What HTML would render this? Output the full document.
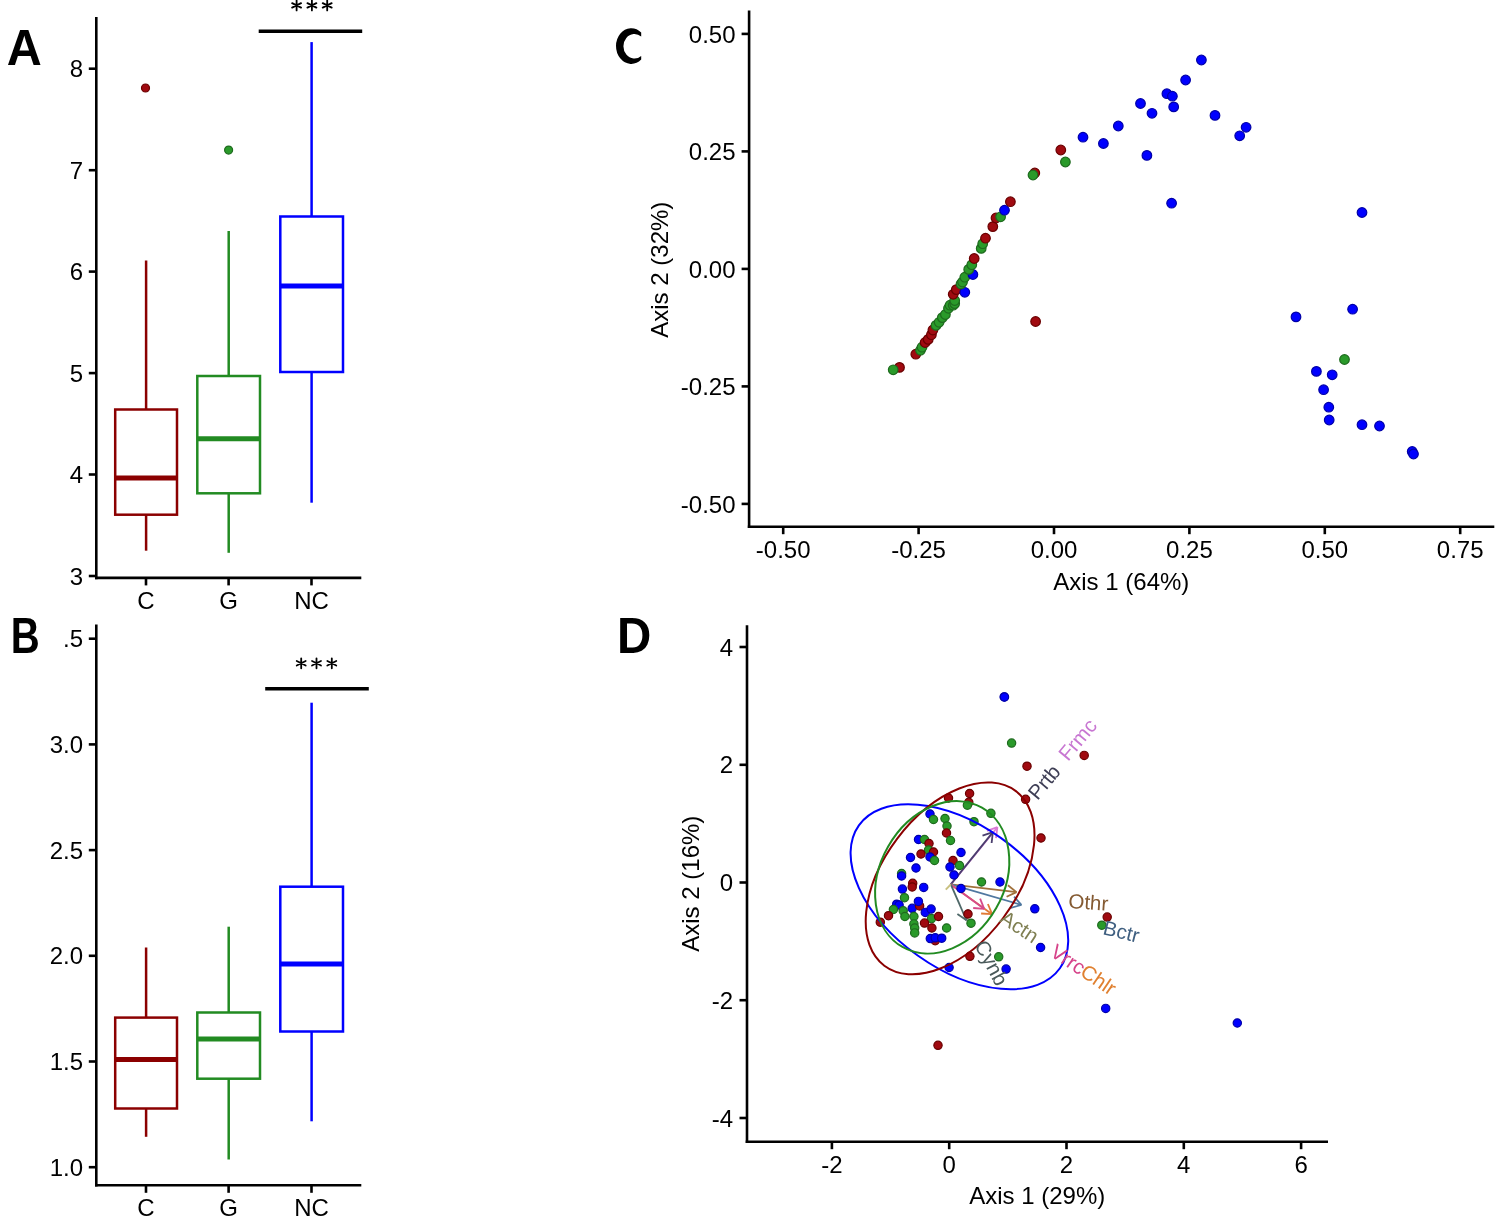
<!DOCTYPE html>
<html><head><meta charset="utf-8"><style>
html,body{margin:0;padding:0;background:#fff;overflow:hidden;font-family:"Liberation Sans", sans-serif;}
svg{display:block;-webkit-font-smoothing:antialiased;will-change:transform;}
</style></head><body>
<svg width="1500" height="1221" viewBox="0 0 1500 1221" font-family="&quot;Liberation Sans&quot;, sans-serif">
<rect width="1500" height="1221" fill="#fff"/>
<line x1="96.3" y1="17.0" x2="96.3" y2="579.2" stroke="#000" stroke-width="2.6" stroke-linecap="butt"/>
<line x1="95.0" y1="577.9" x2="361.3" y2="577.9" stroke="#000" stroke-width="2.6" stroke-linecap="butt"/>
<line x1="88.8" y1="576.0" x2="96.3" y2="576.0" stroke="#000" stroke-width="2.6" stroke-linecap="butt"/>
<text x="83.0" y="584.6" font-size="24" text-anchor="end" fill="#000" font-weight="normal">3</text>
<line x1="88.8" y1="474.5" x2="96.3" y2="474.5" stroke="#000" stroke-width="2.6" stroke-linecap="butt"/>
<text x="83.0" y="483.1" font-size="24" text-anchor="end" fill="#000" font-weight="normal">4</text>
<line x1="88.8" y1="373.1" x2="96.3" y2="373.1" stroke="#000" stroke-width="2.6" stroke-linecap="butt"/>
<text x="83.0" y="381.7" font-size="24" text-anchor="end" fill="#000" font-weight="normal">5</text>
<line x1="88.8" y1="271.6" x2="96.3" y2="271.6" stroke="#000" stroke-width="2.6" stroke-linecap="butt"/>
<text x="83.0" y="280.2" font-size="24" text-anchor="end" fill="#000" font-weight="normal">6</text>
<line x1="88.8" y1="170.2" x2="96.3" y2="170.2" stroke="#000" stroke-width="2.6" stroke-linecap="butt"/>
<text x="83.0" y="178.8" font-size="24" text-anchor="end" fill="#000" font-weight="normal">7</text>
<line x1="88.8" y1="68.7" x2="96.3" y2="68.7" stroke="#000" stroke-width="2.6" stroke-linecap="butt"/>
<text x="83.0" y="77.3" font-size="24" text-anchor="end" fill="#000" font-weight="normal">8</text>
<line x1="146.0" y1="577.9" x2="146.0" y2="585.4" stroke="#000" stroke-width="2.6" stroke-linecap="butt"/>
<text x="146.0" y="608.9" font-size="24" text-anchor="middle" fill="#000" font-weight="normal">C</text>
<line x1="228.6" y1="577.9" x2="228.6" y2="585.4" stroke="#000" stroke-width="2.6" stroke-linecap="butt"/>
<text x="228.6" y="608.9" font-size="24" text-anchor="middle" fill="#000" font-weight="normal">G</text>
<line x1="311.5" y1="577.9" x2="311.5" y2="585.4" stroke="#000" stroke-width="2.6" stroke-linecap="butt"/>
<text x="311.5" y="608.9" font-size="24" text-anchor="middle" fill="#000" font-weight="normal">NC</text>
<line x1="146.1" y1="260.5" x2="146.1" y2="409.5" stroke="#8b0000" stroke-width="2.5" stroke-linecap="butt"/>
<line x1="146.1" y1="514.7" x2="146.1" y2="550.7" stroke="#8b0000" stroke-width="2.5" stroke-linecap="butt"/>
<rect x="115.2" y="409.5" width="61.8" height="105.2" fill="none" stroke="#8b0000" stroke-width="2.5"/>
<line x1="115.2" y1="478.0" x2="177.0" y2="478.0" stroke="#8b0000" stroke-width="5" stroke-linecap="butt"/>
<line x1="228.7" y1="231.0" x2="228.7" y2="376.0" stroke="#228b22" stroke-width="2.5" stroke-linecap="butt"/>
<line x1="228.7" y1="493.3" x2="228.7" y2="552.8" stroke="#228b22" stroke-width="2.5" stroke-linecap="butt"/>
<rect x="197.3" y="376.0" width="62.7" height="117.3" fill="none" stroke="#228b22" stroke-width="2.5"/>
<line x1="197.3" y1="438.7" x2="260.0" y2="438.7" stroke="#228b22" stroke-width="5" stroke-linecap="butt"/>
<line x1="311.6" y1="42.1" x2="311.6" y2="216.5" stroke="#0000ff" stroke-width="2.5" stroke-linecap="butt"/>
<line x1="311.6" y1="372.0" x2="311.6" y2="502.7" stroke="#0000ff" stroke-width="2.5" stroke-linecap="butt"/>
<rect x="280.3" y="216.5" width="62.7" height="155.5" fill="none" stroke="#0000ff" stroke-width="2.5"/>
<line x1="280.3" y1="285.9" x2="343.0" y2="285.9" stroke="#0000ff" stroke-width="5" stroke-linecap="butt"/>
<line x1="258.7" y1="31.2" x2="362.2" y2="31.2" stroke="#000" stroke-width="3.4" stroke-linecap="butt"/>
<path d="M296.60 0.40L296.60 10.40M292.14 3.13L301.06 7.67M301.06 3.13L292.14 7.67" stroke="#000" stroke-width="1.8" stroke-linecap="round" fill="none"/>
<path d="M311.90 0.40L311.90 10.40M307.44 3.13L316.36 7.67M316.36 3.13L307.44 7.67" stroke="#000" stroke-width="1.8" stroke-linecap="round" fill="none"/>
<path d="M327.20 0.40L327.20 10.40M322.74 3.13L331.66 7.67M331.66 3.13L322.74 7.67" stroke="#000" stroke-width="1.8" stroke-linecap="round" fill="none"/>
<circle cx="145.5" cy="88.0" r="4.00" fill="#a00a10" stroke="#6a0000" stroke-width="1.2"/>
<circle cx="228.6" cy="150.1" r="4.00" fill="#2a9a2a" stroke="#1e6a1e" stroke-width="1.2"/>
<line x1="96.3" y1="624.5" x2="96.3" y2="1186.6" stroke="#000" stroke-width="2.6" stroke-linecap="butt"/>
<line x1="95.0" y1="1185.3" x2="361.3" y2="1185.3" stroke="#000" stroke-width="2.6" stroke-linecap="butt"/>
<line x1="88.8" y1="638.7" x2="96.3" y2="638.7" stroke="#000" stroke-width="2.6" stroke-linecap="butt"/>
<text x="83.0" y="647.3" font-size="24" text-anchor="end" fill="#000" font-weight="normal">.5</text>
<line x1="88.8" y1="1167.2" x2="96.3" y2="1167.2" stroke="#000" stroke-width="2.6" stroke-linecap="butt"/>
<text x="83.0" y="1175.8" font-size="24" text-anchor="end" fill="#000" font-weight="normal">1.0</text>
<line x1="88.8" y1="1061.5" x2="96.3" y2="1061.5" stroke="#000" stroke-width="2.6" stroke-linecap="butt"/>
<text x="83.0" y="1070.1" font-size="24" text-anchor="end" fill="#000" font-weight="normal">1.5</text>
<line x1="88.8" y1="955.8" x2="96.3" y2="955.8" stroke="#000" stroke-width="2.6" stroke-linecap="butt"/>
<text x="83.0" y="964.4" font-size="24" text-anchor="end" fill="#000" font-weight="normal">2.0</text>
<line x1="88.8" y1="850.1" x2="96.3" y2="850.1" stroke="#000" stroke-width="2.6" stroke-linecap="butt"/>
<text x="83.0" y="858.7" font-size="24" text-anchor="end" fill="#000" font-weight="normal">2.5</text>
<line x1="88.8" y1="744.4" x2="96.3" y2="744.4" stroke="#000" stroke-width="2.6" stroke-linecap="butt"/>
<text x="83.0" y="753.0" font-size="24" text-anchor="end" fill="#000" font-weight="normal">3.0</text>
<line x1="146.0" y1="1185.3" x2="146.0" y2="1192.8" stroke="#000" stroke-width="2.6" stroke-linecap="butt"/>
<text x="146.0" y="1216.3" font-size="24" text-anchor="middle" fill="#000" font-weight="normal">C</text>
<line x1="228.6" y1="1185.3" x2="228.6" y2="1192.8" stroke="#000" stroke-width="2.6" stroke-linecap="butt"/>
<text x="228.6" y="1216.3" font-size="24" text-anchor="middle" fill="#000" font-weight="normal">G</text>
<line x1="311.5" y1="1185.3" x2="311.5" y2="1192.8" stroke="#000" stroke-width="2.6" stroke-linecap="butt"/>
<text x="311.5" y="1216.3" font-size="24" text-anchor="middle" fill="#000" font-weight="normal">NC</text>
<line x1="146.1" y1="947.5" x2="146.1" y2="1017.6" stroke="#8b0000" stroke-width="2.5" stroke-linecap="butt"/>
<line x1="146.1" y1="1108.5" x2="146.1" y2="1136.8" stroke="#8b0000" stroke-width="2.5" stroke-linecap="butt"/>
<rect x="115.2" y="1017.6" width="61.8" height="90.9" fill="none" stroke="#8b0000" stroke-width="2.5"/>
<line x1="115.2" y1="1059.5" x2="177.0" y2="1059.5" stroke="#8b0000" stroke-width="5" stroke-linecap="butt"/>
<line x1="228.7" y1="926.7" x2="228.7" y2="1012.5" stroke="#228b22" stroke-width="2.5" stroke-linecap="butt"/>
<line x1="228.7" y1="1078.7" x2="228.7" y2="1159.5" stroke="#228b22" stroke-width="2.5" stroke-linecap="butt"/>
<rect x="197.3" y="1012.5" width="62.7" height="66.2" fill="none" stroke="#228b22" stroke-width="2.5"/>
<line x1="197.3" y1="1038.9" x2="260.0" y2="1038.9" stroke="#228b22" stroke-width="5" stroke-linecap="butt"/>
<line x1="311.6" y1="702.7" x2="311.6" y2="886.7" stroke="#0000ff" stroke-width="2.5" stroke-linecap="butt"/>
<line x1="311.6" y1="1031.5" x2="311.6" y2="1121.3" stroke="#0000ff" stroke-width="2.5" stroke-linecap="butt"/>
<rect x="280.3" y="886.7" width="62.7" height="144.8" fill="none" stroke="#0000ff" stroke-width="2.5"/>
<line x1="280.3" y1="964.0" x2="343.0" y2="964.0" stroke="#0000ff" stroke-width="5" stroke-linecap="butt"/>
<line x1="265.2" y1="688.8" x2="368.8" y2="688.8" stroke="#000" stroke-width="3.4" stroke-linecap="butt"/>
<path d="M301.20 658.30L301.20 668.30M296.74 661.03L305.66 665.57M305.66 661.03L296.74 665.57" stroke="#000" stroke-width="1.8" stroke-linecap="round" fill="none"/>
<path d="M316.50 658.30L316.50 668.30M312.04 661.03L320.96 665.57M320.96 661.03L312.04 665.57" stroke="#000" stroke-width="1.8" stroke-linecap="round" fill="none"/>
<path d="M331.80 658.30L331.80 668.30M327.34 661.03L336.26 665.57M336.26 661.03L327.34 665.57" stroke="#000" stroke-width="1.8" stroke-linecap="round" fill="none"/>
<text x="0" y="0" font-size="49.5" font-weight="bold" text-anchor="middle" transform="translate(24.25 64.8) scale(0.98 1)">A</text>
<text x="0" y="0" font-size="49.5" font-weight="bold" text-anchor="middle" transform="translate(25.2 652.8) scale(0.81 1)">B</text>
<path d="M641.2 32.6A15.25 17.8 0 1 0 641.2 59.6L641.2 55.9A11.0 12.25 0 1 1 641.2 36.6Z" fill="#000"/>
<text x="0" y="0" font-size="49.5" font-weight="bold" text-anchor="middle" transform="translate(634.1 653) scale(0.96 1)">D</text>
<line x1="749.1" y1="10.5" x2="749.1" y2="528.0" stroke="#000" stroke-width="2.6" stroke-linecap="butt"/>
<line x1="747.8" y1="526.7" x2="1494.3" y2="526.7" stroke="#000" stroke-width="2.6" stroke-linecap="butt"/>
<line x1="741.6" y1="33.9" x2="749.1" y2="33.9" stroke="#000" stroke-width="2.6" stroke-linecap="butt"/>
<text x="735.5" y="42.5" font-size="24" text-anchor="end" fill="#000" font-weight="normal">0.50</text>
<line x1="741.6" y1="151.4" x2="749.1" y2="151.4" stroke="#000" stroke-width="2.6" stroke-linecap="butt"/>
<text x="735.5" y="160.0" font-size="24" text-anchor="end" fill="#000" font-weight="normal">0.25</text>
<line x1="741.6" y1="268.9" x2="749.1" y2="268.9" stroke="#000" stroke-width="2.6" stroke-linecap="butt"/>
<text x="735.5" y="277.5" font-size="24" text-anchor="end" fill="#000" font-weight="normal">0.00</text>
<line x1="741.6" y1="386.4" x2="749.1" y2="386.4" stroke="#000" stroke-width="2.6" stroke-linecap="butt"/>
<text x="735.5" y="395.0" font-size="24" text-anchor="end" fill="#000" font-weight="normal">-0.25</text>
<line x1="741.6" y1="503.9" x2="749.1" y2="503.9" stroke="#000" stroke-width="2.6" stroke-linecap="butt"/>
<text x="735.5" y="512.5" font-size="24" text-anchor="end" fill="#000" font-weight="normal">-0.50</text>
<line x1="783.2" y1="526.7" x2="783.2" y2="534.2" stroke="#000" stroke-width="2.6" stroke-linecap="butt"/>
<text x="783.2" y="557.7" font-size="24" text-anchor="middle" fill="#000" font-weight="normal">-0.50</text>
<line x1="918.6" y1="526.7" x2="918.6" y2="534.2" stroke="#000" stroke-width="2.6" stroke-linecap="butt"/>
<text x="918.6" y="557.7" font-size="24" text-anchor="middle" fill="#000" font-weight="normal">-0.25</text>
<line x1="1054.0" y1="526.7" x2="1054.0" y2="534.2" stroke="#000" stroke-width="2.6" stroke-linecap="butt"/>
<text x="1054.0" y="557.7" font-size="24" text-anchor="middle" fill="#000" font-weight="normal">0.00</text>
<line x1="1189.4" y1="526.7" x2="1189.4" y2="534.2" stroke="#000" stroke-width="2.6" stroke-linecap="butt"/>
<text x="1189.4" y="557.7" font-size="24" text-anchor="middle" fill="#000" font-weight="normal">0.25</text>
<line x1="1324.8" y1="526.7" x2="1324.8" y2="534.2" stroke="#000" stroke-width="2.6" stroke-linecap="butt"/>
<text x="1324.8" y="557.7" font-size="24" text-anchor="middle" fill="#000" font-weight="normal">0.50</text>
<line x1="1460.2" y1="526.7" x2="1460.2" y2="534.2" stroke="#000" stroke-width="2.6" stroke-linecap="butt"/>
<text x="1460.2" y="557.7" font-size="24" text-anchor="middle" fill="#000" font-weight="normal">0.75</text>
<text x="1121.3" y="589.5" font-size="24" text-anchor="middle" fill="#000" font-weight="normal">Axis 1 (64%)</text>
<text x="668.0" y="269.7" font-size="24" text-anchor="middle" fill="#000" font-weight="normal" transform="rotate(-90 668.0 269.7)">Axis 2 (32%)</text>
<circle cx="899.5" cy="367.4" r="4.80" fill="#a00a10" stroke="#6a0000" stroke-width="1.2"/>
<circle cx="893.2" cy="369.8" r="4.80" fill="#2a9a2a" stroke="#1e6a1e" stroke-width="1.2"/>
<circle cx="915.8" cy="354.2" r="4.80" fill="#a00a10" stroke="#6a0000" stroke-width="1.2"/>
<circle cx="920.5" cy="350.3" r="4.80" fill="#2a9a2a" stroke="#1e6a1e" stroke-width="1.2"/>
<circle cx="922.0" cy="347.2" r="4.80" fill="#2a9a2a" stroke="#1e6a1e" stroke-width="1.2"/>
<circle cx="925.1" cy="342.5" r="4.80" fill="#a00a10" stroke="#6a0000" stroke-width="1.2"/>
<circle cx="928.2" cy="339.4" r="4.80" fill="#a00a10" stroke="#6a0000" stroke-width="1.2"/>
<circle cx="931.4" cy="334.7" r="4.80" fill="#a00a10" stroke="#6a0000" stroke-width="1.2"/>
<circle cx="932.9" cy="330.0" r="4.80" fill="#a00a10" stroke="#6a0000" stroke-width="1.2"/>
<circle cx="936.0" cy="325.4" r="4.80" fill="#2a9a2a" stroke="#1e6a1e" stroke-width="1.2"/>
<circle cx="939.1" cy="322.3" r="4.80" fill="#2a9a2a" stroke="#1e6a1e" stroke-width="1.2"/>
<circle cx="942.3" cy="317.6" r="4.80" fill="#2a9a2a" stroke="#1e6a1e" stroke-width="1.2"/>
<circle cx="945.4" cy="314.5" r="4.80" fill="#2a9a2a" stroke="#1e6a1e" stroke-width="1.2"/>
<circle cx="948.5" cy="308.3" r="4.80" fill="#2a9a2a" stroke="#1e6a1e" stroke-width="1.2"/>
<circle cx="950.0" cy="305.2" r="4.80" fill="#2a9a2a" stroke="#1e6a1e" stroke-width="1.2"/>
<circle cx="953.2" cy="305.2" r="4.80" fill="#2a9a2a" stroke="#1e6a1e" stroke-width="1.2"/>
<circle cx="954.7" cy="303.6" r="4.80" fill="#2a9a2a" stroke="#1e6a1e" stroke-width="1.2"/>
<circle cx="954.7" cy="300.5" r="4.80" fill="#2a9a2a" stroke="#1e6a1e" stroke-width="1.2"/>
<circle cx="953.2" cy="294.3" r="4.80" fill="#a00a10" stroke="#6a0000" stroke-width="1.2"/>
<circle cx="956.3" cy="289.6" r="4.80" fill="#a00a10" stroke="#6a0000" stroke-width="1.2"/>
<circle cx="964.8" cy="292.3" r="4.80" fill="#0000ff" stroke="#0000a8" stroke-width="1.2"/>
<circle cx="961.0" cy="284.0" r="4.80" fill="#2a9a2a" stroke="#1e6a1e" stroke-width="1.2"/>
<circle cx="962.5" cy="282.0" r="4.80" fill="#2a9a2a" stroke="#1e6a1e" stroke-width="1.2"/>
<circle cx="964.8" cy="277.2" r="4.80" fill="#2a9a2a" stroke="#1e6a1e" stroke-width="1.2"/>
<circle cx="972.9" cy="274.5" r="4.80" fill="#0000ff" stroke="#0000a8" stroke-width="1.2"/>
<circle cx="968.7" cy="269.4" r="4.80" fill="#2a9a2a" stroke="#1e6a1e" stroke-width="1.2"/>
<circle cx="971.8" cy="264.7" r="4.80" fill="#2a9a2a" stroke="#1e6a1e" stroke-width="1.2"/>
<circle cx="974.2" cy="258.5" r="4.80" fill="#a00a10" stroke="#6a0000" stroke-width="1.2"/>
<circle cx="981.2" cy="248.4" r="4.80" fill="#2a9a2a" stroke="#1e6a1e" stroke-width="1.2"/>
<circle cx="982.7" cy="243.7" r="4.80" fill="#2a9a2a" stroke="#1e6a1e" stroke-width="1.2"/>
<circle cx="985.5" cy="238.2" r="4.80" fill="#a00a10" stroke="#6a0000" stroke-width="1.2"/>
<circle cx="992.8" cy="226.6" r="4.80" fill="#a00a10" stroke="#6a0000" stroke-width="1.2"/>
<circle cx="996.0" cy="218.0" r="4.80" fill="#a00a10" stroke="#6a0000" stroke-width="1.2"/>
<circle cx="1000.6" cy="216.8" r="4.80" fill="#2a9a2a" stroke="#1e6a1e" stroke-width="1.2"/>
<circle cx="1004.5" cy="210.2" r="4.80" fill="#0000ff" stroke="#0000a8" stroke-width="1.2"/>
<circle cx="1010.4" cy="201.7" r="4.80" fill="#a00a10" stroke="#6a0000" stroke-width="1.2"/>
<circle cx="1035.6" cy="321.5" r="4.80" fill="#a00a10" stroke="#6a0000" stroke-width="1.2"/>
<circle cx="1034.8" cy="173.0" r="4.80" fill="#a00a10" stroke="#6a0000" stroke-width="1.2"/>
<circle cx="1033.0" cy="175.0" r="4.80" fill="#2a9a2a" stroke="#1e6a1e" stroke-width="1.2"/>
<circle cx="1060.8" cy="150.0" r="4.80" fill="#a00a10" stroke="#6a0000" stroke-width="1.2"/>
<circle cx="1065.4" cy="162.0" r="4.80" fill="#2a9a2a" stroke="#1e6a1e" stroke-width="1.2"/>
<circle cx="1083.0" cy="137.2" r="4.80" fill="#0000ff" stroke="#0000a8" stroke-width="1.2"/>
<circle cx="1103.4" cy="143.5" r="4.80" fill="#0000ff" stroke="#0000a8" stroke-width="1.2"/>
<circle cx="1118.3" cy="126.0" r="4.80" fill="#0000ff" stroke="#0000a8" stroke-width="1.2"/>
<circle cx="1140.5" cy="103.5" r="4.80" fill="#0000ff" stroke="#0000a8" stroke-width="1.2"/>
<circle cx="1152.0" cy="113.3" r="4.80" fill="#0000ff" stroke="#0000a8" stroke-width="1.2"/>
<circle cx="1146.9" cy="155.4" r="4.80" fill="#0000ff" stroke="#0000a8" stroke-width="1.2"/>
<circle cx="1166.9" cy="93.7" r="4.80" fill="#0000ff" stroke="#0000a8" stroke-width="1.2"/>
<circle cx="1172.4" cy="96.2" r="4.80" fill="#0000ff" stroke="#0000a8" stroke-width="1.2"/>
<circle cx="1173.7" cy="106.9" r="4.80" fill="#0000ff" stroke="#0000a8" stroke-width="1.2"/>
<circle cx="1185.6" cy="80.0" r="4.80" fill="#0000ff" stroke="#0000a8" stroke-width="1.2"/>
<circle cx="1201.4" cy="60.0" r="4.80" fill="#0000ff" stroke="#0000a8" stroke-width="1.2"/>
<circle cx="1215.0" cy="115.4" r="4.80" fill="#0000ff" stroke="#0000a8" stroke-width="1.2"/>
<circle cx="1246.1" cy="127.3" r="4.80" fill="#0000ff" stroke="#0000a8" stroke-width="1.2"/>
<circle cx="1239.7" cy="135.8" r="4.80" fill="#0000ff" stroke="#0000a8" stroke-width="1.2"/>
<circle cx="1171.6" cy="203.2" r="4.80" fill="#0000ff" stroke="#0000a8" stroke-width="1.2"/>
<circle cx="1362.0" cy="212.5" r="4.80" fill="#0000ff" stroke="#0000a8" stroke-width="1.2"/>
<circle cx="1296.0" cy="316.9" r="4.80" fill="#0000ff" stroke="#0000a8" stroke-width="1.2"/>
<circle cx="1352.6" cy="309.2" r="4.80" fill="#0000ff" stroke="#0000a8" stroke-width="1.2"/>
<circle cx="1344.5" cy="359.5" r="4.80" fill="#2a9a2a" stroke="#1e6a1e" stroke-width="1.2"/>
<circle cx="1316.4" cy="371.4" r="4.80" fill="#0000ff" stroke="#0000a8" stroke-width="1.2"/>
<circle cx="1332.2" cy="374.8" r="4.80" fill="#0000ff" stroke="#0000a8" stroke-width="1.2"/>
<circle cx="1323.6" cy="389.7" r="4.80" fill="#0000ff" stroke="#0000a8" stroke-width="1.2"/>
<circle cx="1328.8" cy="407.2" r="4.80" fill="#0000ff" stroke="#0000a8" stroke-width="1.2"/>
<circle cx="1329.2" cy="420.0" r="4.80" fill="#0000ff" stroke="#0000a8" stroke-width="1.2"/>
<circle cx="1362.0" cy="424.7" r="4.80" fill="#0000ff" stroke="#0000a8" stroke-width="1.2"/>
<circle cx="1379.5" cy="426.0" r="4.80" fill="#0000ff" stroke="#0000a8" stroke-width="1.2"/>
<circle cx="1412.2" cy="451.5" r="4.80" fill="#0000ff" stroke="#0000a8" stroke-width="1.2"/>
<circle cx="1413.5" cy="454.0" r="4.80" fill="#0000ff" stroke="#0000a8" stroke-width="1.2"/>
<line x1="747.0" y1="625.3" x2="747.0" y2="1143.0" stroke="#000" stroke-width="2.6" stroke-linecap="butt"/>
<line x1="745.7" y1="1141.7" x2="1328.0" y2="1141.7" stroke="#000" stroke-width="2.6" stroke-linecap="butt"/>
<line x1="739.5" y1="647.0" x2="747.0" y2="647.0" stroke="#000" stroke-width="2.6" stroke-linecap="butt"/>
<text x="733.0" y="655.6" font-size="24" text-anchor="end" fill="#000" font-weight="normal">4</text>
<line x1="739.5" y1="764.8" x2="747.0" y2="764.8" stroke="#000" stroke-width="2.6" stroke-linecap="butt"/>
<text x="733.0" y="773.4" font-size="24" text-anchor="end" fill="#000" font-weight="normal">2</text>
<line x1="739.5" y1="882.5" x2="747.0" y2="882.5" stroke="#000" stroke-width="2.6" stroke-linecap="butt"/>
<text x="733.0" y="891.1" font-size="24" text-anchor="end" fill="#000" font-weight="normal">0</text>
<line x1="739.5" y1="1000.2" x2="747.0" y2="1000.2" stroke="#000" stroke-width="2.6" stroke-linecap="butt"/>
<text x="733.0" y="1008.9" font-size="24" text-anchor="end" fill="#000" font-weight="normal">-2</text>
<line x1="739.5" y1="1118.0" x2="747.0" y2="1118.0" stroke="#000" stroke-width="2.6" stroke-linecap="butt"/>
<text x="733.0" y="1126.6" font-size="24" text-anchor="end" fill="#000" font-weight="normal">-4</text>
<line x1="831.9" y1="1141.7" x2="831.9" y2="1149.2" stroke="#000" stroke-width="2.6" stroke-linecap="butt"/>
<text x="831.9" y="1172.7" font-size="24" text-anchor="middle" fill="#000" font-weight="normal">-2</text>
<line x1="949.2" y1="1141.7" x2="949.2" y2="1149.2" stroke="#000" stroke-width="2.6" stroke-linecap="butt"/>
<text x="949.2" y="1172.7" font-size="24" text-anchor="middle" fill="#000" font-weight="normal">0</text>
<line x1="1066.5" y1="1141.7" x2="1066.5" y2="1149.2" stroke="#000" stroke-width="2.6" stroke-linecap="butt"/>
<text x="1066.5" y="1172.7" font-size="24" text-anchor="middle" fill="#000" font-weight="normal">2</text>
<line x1="1183.8" y1="1141.7" x2="1183.8" y2="1149.2" stroke="#000" stroke-width="2.6" stroke-linecap="butt"/>
<text x="1183.8" y="1172.7" font-size="24" text-anchor="middle" fill="#000" font-weight="normal">4</text>
<line x1="1301.1" y1="1141.7" x2="1301.1" y2="1149.2" stroke="#000" stroke-width="2.6" stroke-linecap="butt"/>
<text x="1301.1" y="1172.7" font-size="24" text-anchor="middle" fill="#000" font-weight="normal">6</text>
<text x="1037.2" y="1204.0" font-size="24" text-anchor="middle" fill="#000" font-weight="normal">Axis 1 (29%)</text>
<text x="699.0" y="883.7" font-size="24" text-anchor="middle" fill="#000" font-weight="normal" transform="rotate(-90 699.0 883.7)">Axis 2 (16%)</text>
<line x1="950.8" y1="884.4" x2="997.4" y2="827.2" stroke="#da7ad6" stroke-width="1.8" stroke-linecap="butt"/>
<line x1="997.4" y1="827.2" x2="996.0" y2="838.1" stroke="#da7ad6" stroke-width="1.8" stroke-linecap="butt"/>
<line x1="997.4" y1="827.2" x2="987.0" y2="830.8" stroke="#da7ad6" stroke-width="1.8" stroke-linecap="butt"/>
<line x1="950.8" y1="884.4" x2="992.9" y2="832.1" stroke="#4a3f6e" stroke-width="1.8" stroke-linecap="butt"/>
<line x1="992.9" y1="832.1" x2="991.6" y2="843.0" stroke="#4a3f6e" stroke-width="1.8" stroke-linecap="butt"/>
<line x1="992.9" y1="832.1" x2="982.5" y2="835.7" stroke="#4a3f6e" stroke-width="1.8" stroke-linecap="butt"/>
<line x1="950.8" y1="884.4" x2="1016.5" y2="892.1" stroke="#a0703a" stroke-width="1.8" stroke-linecap="butt"/>
<line x1="1016.5" y1="892.1" x2="1006.6" y2="896.8" stroke="#a0703a" stroke-width="1.8" stroke-linecap="butt"/>
<line x1="1016.5" y1="892.1" x2="1007.9" y2="885.2" stroke="#a0703a" stroke-width="1.8" stroke-linecap="butt"/>
<line x1="950.8" y1="884.4" x2="1021.4" y2="904.9" stroke="#5078a0" stroke-width="1.8" stroke-linecap="butt"/>
<line x1="1021.4" y1="904.9" x2="1010.8" y2="907.9" stroke="#5078a0" stroke-width="1.8" stroke-linecap="butt"/>
<line x1="1021.4" y1="904.9" x2="1014.1" y2="896.7" stroke="#5078a0" stroke-width="1.8" stroke-linecap="butt"/>
<line x1="950.8" y1="884.4" x2="992.1" y2="914.2" stroke="#e07a35" stroke-width="1.8" stroke-linecap="butt"/>
<line x1="992.1" y1="914.2" x2="981.1" y2="913.5" stroke="#e07a35" stroke-width="1.8" stroke-linecap="butt"/>
<line x1="992.1" y1="914.2" x2="987.9" y2="904.0" stroke="#e07a35" stroke-width="1.8" stroke-linecap="butt"/>
<line x1="950.8" y1="884.4" x2="984.2" y2="908.8" stroke="#d64a8a" stroke-width="1.8" stroke-linecap="butt"/>
<line x1="984.2" y1="908.8" x2="973.2" y2="908.0" stroke="#d64a8a" stroke-width="1.8" stroke-linecap="butt"/>
<line x1="984.2" y1="908.8" x2="980.1" y2="898.6" stroke="#d64a8a" stroke-width="1.8" stroke-linecap="butt"/>
<line x1="950.8" y1="884.4" x2="966.5" y2="920.3" stroke="#4f6868" stroke-width="1.8" stroke-linecap="butt"/>
<line x1="966.5" y1="920.3" x2="957.4" y2="914.1" stroke="#4f6868" stroke-width="1.8" stroke-linecap="butt"/>
<line x1="966.5" y1="920.3" x2="968.1" y2="909.4" stroke="#4f6868" stroke-width="1.8" stroke-linecap="butt"/>
<line x1="950.8" y1="884.4" x2="945.8" y2="889.6" stroke="#c8c080" stroke-width="2.0" stroke-linecap="butt"/>
<circle cx="1004.2" cy="696.9" r="4.15" fill="#0000ff" stroke="#0000a8" stroke-width="1.2"/>
<circle cx="1011.6" cy="743.1" r="4.15" fill="#2a9a2a" stroke="#1e6a1e" stroke-width="1.2"/>
<circle cx="1027.0" cy="766.2" r="4.15" fill="#a00a10" stroke="#6a0000" stroke-width="1.2"/>
<circle cx="1084.2" cy="755.4" r="4.15" fill="#a00a10" stroke="#6a0000" stroke-width="1.2"/>
<circle cx="1025.6" cy="799.3" r="4.15" fill="#a00a10" stroke="#6a0000" stroke-width="1.2"/>
<circle cx="1041.0" cy="838.0" r="4.15" fill="#a00a10" stroke="#6a0000" stroke-width="1.2"/>
<circle cx="969.6" cy="793.5" r="4.15" fill="#a00a10" stroke="#6a0000" stroke-width="1.2"/>
<circle cx="968.8" cy="802.3" r="4.15" fill="#a00a10" stroke="#6a0000" stroke-width="1.2"/>
<circle cx="967.4" cy="805.2" r="4.15" fill="#2a9a2a" stroke="#1e6a1e" stroke-width="1.2"/>
<circle cx="990.9" cy="813.3" r="4.15" fill="#2a9a2a" stroke="#1e6a1e" stroke-width="1.2"/>
<circle cx="974.0" cy="821.7" r="4.15" fill="#2a9a2a" stroke="#1e6a1e" stroke-width="1.2"/>
<circle cx="948.5" cy="798.0" r="4.15" fill="#a00a10" stroke="#6a0000" stroke-width="1.2"/>
<circle cx="930.0" cy="814.0" r="4.15" fill="#0000ff" stroke="#0000a8" stroke-width="1.2"/>
<circle cx="933.5" cy="819.5" r="4.15" fill="#2a9a2a" stroke="#1e6a1e" stroke-width="1.2"/>
<circle cx="945.0" cy="818.5" r="4.15" fill="#2a9a2a" stroke="#1e6a1e" stroke-width="1.2"/>
<circle cx="947.0" cy="826.0" r="4.15" fill="#2a9a2a" stroke="#1e6a1e" stroke-width="1.2"/>
<circle cx="946.5" cy="833.0" r="4.15" fill="#a00a10" stroke="#6a0000" stroke-width="1.2"/>
<circle cx="950.5" cy="840.5" r="4.15" fill="#2a9a2a" stroke="#1e6a1e" stroke-width="1.2"/>
<circle cx="918.5" cy="839.5" r="4.15" fill="#0000ff" stroke="#0000a8" stroke-width="1.2"/>
<circle cx="924.5" cy="839.5" r="4.15" fill="#2a9a2a" stroke="#1e6a1e" stroke-width="1.2"/>
<circle cx="929.0" cy="843.5" r="4.15" fill="#a00a10" stroke="#6a0000" stroke-width="1.2"/>
<circle cx="928.5" cy="850.0" r="4.15" fill="#2a9a2a" stroke="#1e6a1e" stroke-width="1.2"/>
<circle cx="933.5" cy="852.0" r="4.15" fill="#a00a10" stroke="#6a0000" stroke-width="1.2"/>
<circle cx="921.0" cy="854.0" r="4.15" fill="#a00a10" stroke="#6a0000" stroke-width="1.2"/>
<circle cx="930.0" cy="857.0" r="4.15" fill="#0000ff" stroke="#0000a8" stroke-width="1.2"/>
<circle cx="934.5" cy="860.5" r="4.15" fill="#2a9a2a" stroke="#1e6a1e" stroke-width="1.2"/>
<circle cx="910.5" cy="857.5" r="4.15" fill="#0000ff" stroke="#0000a8" stroke-width="1.2"/>
<circle cx="916.0" cy="868.0" r="4.15" fill="#0000ff" stroke="#0000a8" stroke-width="1.2"/>
<circle cx="961.0" cy="852.5" r="4.15" fill="#0000ff" stroke="#0000a8" stroke-width="1.2"/>
<circle cx="953.0" cy="860.5" r="4.15" fill="#a00a10" stroke="#6a0000" stroke-width="1.2"/>
<circle cx="959.5" cy="865.5" r="4.15" fill="#2a9a2a" stroke="#1e6a1e" stroke-width="1.2"/>
<circle cx="950.0" cy="867.0" r="4.15" fill="#0000ff" stroke="#0000a8" stroke-width="1.2"/>
<circle cx="954.0" cy="875.0" r="4.15" fill="#0000ff" stroke="#0000a8" stroke-width="1.2"/>
<circle cx="981.5" cy="882.0" r="4.15" fill="#2a9a2a" stroke="#1e6a1e" stroke-width="1.2"/>
<circle cx="961.0" cy="888.5" r="4.15" fill="#0000ff" stroke="#0000a8" stroke-width="1.2"/>
<circle cx="1000.0" cy="882.0" r="4.15" fill="#0000ff" stroke="#0000a8" stroke-width="1.2"/>
<circle cx="901.6" cy="873.5" r="4.15" fill="#2a9a2a" stroke="#1e6a1e" stroke-width="1.2"/>
<circle cx="901.6" cy="876.0" r="4.15" fill="#0000ff" stroke="#0000a8" stroke-width="1.2"/>
<circle cx="912.7" cy="883.3" r="4.15" fill="#a00a10" stroke="#6a0000" stroke-width="1.2"/>
<circle cx="912.2" cy="887.0" r="4.15" fill="#a00a10" stroke="#6a0000" stroke-width="1.2"/>
<circle cx="902.4" cy="889.1" r="4.15" fill="#0000ff" stroke="#0000a8" stroke-width="1.2"/>
<circle cx="923.7" cy="887.4" r="4.15" fill="#0000ff" stroke="#0000a8" stroke-width="1.2"/>
<circle cx="904.5" cy="897.7" r="4.15" fill="#2a9a2a" stroke="#1e6a1e" stroke-width="1.2"/>
<circle cx="896.7" cy="904.2" r="4.15" fill="#0000ff" stroke="#0000a8" stroke-width="1.2"/>
<circle cx="899.1" cy="905.0" r="4.15" fill="#0000ff" stroke="#0000a8" stroke-width="1.2"/>
<circle cx="893.4" cy="909.5" r="4.15" fill="#2a9a2a" stroke="#1e6a1e" stroke-width="1.2"/>
<circle cx="888.5" cy="915.7" r="4.15" fill="#a00a10" stroke="#6a0000" stroke-width="1.2"/>
<circle cx="880.3" cy="922.2" r="4.15" fill="#a00a10" stroke="#6a0000" stroke-width="1.2"/>
<circle cx="903.2" cy="910.8" r="4.15" fill="#2a9a2a" stroke="#1e6a1e" stroke-width="1.2"/>
<circle cx="904.9" cy="916.5" r="4.15" fill="#2a9a2a" stroke="#1e6a1e" stroke-width="1.2"/>
<circle cx="912.2" cy="908.3" r="4.15" fill="#0000ff" stroke="#0000a8" stroke-width="1.2"/>
<circle cx="919.6" cy="905.9" r="4.15" fill="#a00a10" stroke="#6a0000" stroke-width="1.2"/>
<circle cx="918.4" cy="901.4" r="4.15" fill="#0000ff" stroke="#0000a8" stroke-width="1.2"/>
<circle cx="913.9" cy="916.5" r="4.15" fill="#2a9a2a" stroke="#1e6a1e" stroke-width="1.2"/>
<circle cx="913.9" cy="923.9" r="4.15" fill="#2a9a2a" stroke="#1e6a1e" stroke-width="1.2"/>
<circle cx="914.7" cy="928.0" r="4.15" fill="#2a9a2a" stroke="#1e6a1e" stroke-width="1.2"/>
<circle cx="914.7" cy="932.9" r="4.15" fill="#2a9a2a" stroke="#1e6a1e" stroke-width="1.2"/>
<circle cx="925.3" cy="912.4" r="4.15" fill="#0000ff" stroke="#0000a8" stroke-width="1.2"/>
<circle cx="931.1" cy="909.1" r="4.15" fill="#0000ff" stroke="#0000a8" stroke-width="1.2"/>
<circle cx="931.5" cy="918.6" r="4.15" fill="#2a9a2a" stroke="#1e6a1e" stroke-width="1.2"/>
<circle cx="938.5" cy="916.5" r="4.15" fill="#a00a10" stroke="#6a0000" stroke-width="1.2"/>
<circle cx="924.5" cy="923.1" r="4.15" fill="#a00a10" stroke="#6a0000" stroke-width="1.2"/>
<circle cx="931.9" cy="928.0" r="4.15" fill="#a00a10" stroke="#6a0000" stroke-width="1.2"/>
<circle cx="935.2" cy="940.7" r="4.15" fill="#a00a10" stroke="#6a0000" stroke-width="1.2"/>
<circle cx="930.3" cy="938.6" r="4.15" fill="#0000ff" stroke="#0000a8" stroke-width="1.2"/>
<circle cx="935.2" cy="937.8" r="4.15" fill="#0000ff" stroke="#0000a8" stroke-width="1.2"/>
<circle cx="941.7" cy="938.2" r="4.15" fill="#0000ff" stroke="#0000a8" stroke-width="1.2"/>
<circle cx="946.6" cy="928.0" r="4.15" fill="#2a9a2a" stroke="#1e6a1e" stroke-width="1.2"/>
<circle cx="968.0" cy="914.0" r="4.15" fill="#a00a10" stroke="#6a0000" stroke-width="1.2"/>
<circle cx="971.0" cy="923.2" r="4.15" fill="#2a9a2a" stroke="#1e6a1e" stroke-width="1.2"/>
<circle cx="1034.8" cy="908.8" r="4.15" fill="#0000ff" stroke="#0000a8" stroke-width="1.2"/>
<circle cx="1107.2" cy="917.1" r="4.15" fill="#a00a10" stroke="#6a0000" stroke-width="1.2"/>
<circle cx="1101.8" cy="925.2" r="4.15" fill="#2a9a2a" stroke="#1e6a1e" stroke-width="1.2"/>
<circle cx="1040.6" cy="947.5" r="4.15" fill="#0000ff" stroke="#0000a8" stroke-width="1.2"/>
<circle cx="998.7" cy="956.8" r="4.15" fill="#2a9a2a" stroke="#1e6a1e" stroke-width="1.2"/>
<circle cx="969.9" cy="956.3" r="4.15" fill="#a00a10" stroke="#6a0000" stroke-width="1.2"/>
<circle cx="1006.1" cy="969.1" r="4.15" fill="#0000ff" stroke="#0000a8" stroke-width="1.2"/>
<circle cx="949.1" cy="967.5" r="4.15" fill="#0000ff" stroke="#0000a8" stroke-width="1.2"/>
<circle cx="1105.7" cy="1008.4" r="4.15" fill="#0000ff" stroke="#0000a8" stroke-width="1.2"/>
<circle cx="1237.3" cy="1023.0" r="4.15" fill="#0000ff" stroke="#0000a8" stroke-width="1.2"/>
<circle cx="938.0" cy="1045.3" r="4.15" fill="#a00a10" stroke="#6a0000" stroke-width="1.2"/>
<circle cx="1004.5" cy="697.0" r="4.15" fill="#0000ff" stroke="#0000a8" stroke-width="1.2"/>
<ellipse cx="959.4" cy="896.8" rx="123.3" ry="72.0" transform="rotate(35.4 959.4 896.8)" fill="none" stroke="#0000ff" stroke-width="2.0"/>
<ellipse cx="950.1" cy="878.4" rx="109.3" ry="66.2" transform="rotate(-53.0 950.1 878.4)" fill="none" stroke="#8b0000" stroke-width="2.0"/>
<ellipse cx="942.2" cy="877.3" rx="80.2" ry="62.2" transform="rotate(-60.3 942.2 877.3)" fill="none" stroke="#228b22" stroke-width="2.0"/>
<text x="1037.5" y="801.0" font-size="20.5" fill="#3e3e55" transform="rotate(-50 1037.5 801.0)">Prtb</text>
<text x="1068.0" y="762.0" font-size="20.5" fill="#c877d2" transform="rotate(-50 1068.0 762.0)">Frmc</text>
<text x="1068.0" y="908.0" font-size="20.5" fill="#845a32" transform="rotate(4 1068.0 908.0)">Othr</text>
<text x="1102.0" y="934.0" font-size="20.5" fill="#3f5f80" transform="rotate(14 1102.0 934.0)">Bctr</text>
<text x="998.5" y="921.5" font-size="20.5" fill="#7f7f52" transform="rotate(33 998.5 921.5)">Actn</text>
<text x="1049.0" y="955.0" font-size="20.5" fill="#d6448a" transform="rotate(34 1049.0 955.0)">Vrrc</text>
<text x="1079.0" y="975.0" font-size="20.5" fill="#e08030" transform="rotate(34 1079.0 975.0)">Chlr</text>
<text x="974.0" y="945.0" font-size="20.5" fill="#4a5a5a" transform="rotate(62 974.0 945.0)">Cynb</text>
</svg>
</body></html>
